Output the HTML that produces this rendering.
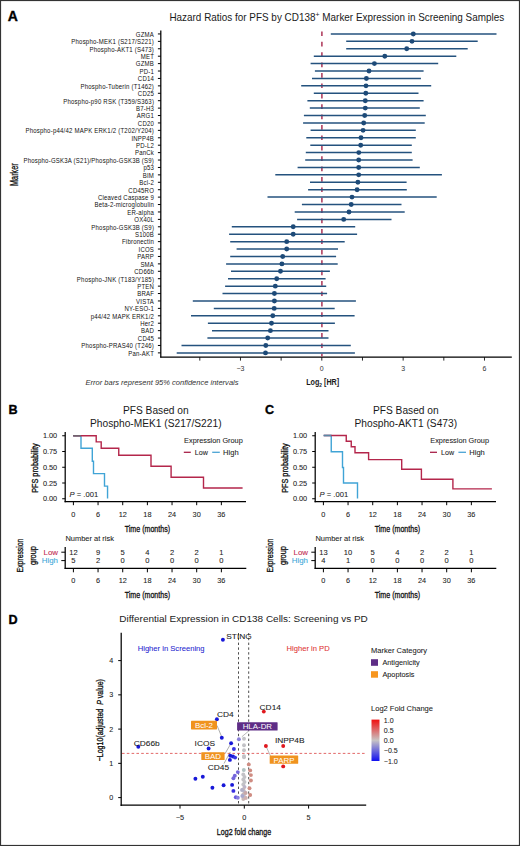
<!DOCTYPE html>
<html><head><meta charset="utf-8"><style>
html,body{margin:0;padding:0;background:#fff;}
body{width:520px;height:846px;overflow:hidden;}
svg{display:block;font-family:"Liberation Sans", sans-serif;}
</style></head><body>
<svg width="520" height="846" viewBox="0 0 520 846">
<rect x="0" y="0" width="520" height="846" fill="#fff"/>
<text x="7.8" y="20.5" font-size="14" text-anchor="start" fill="#000" font-weight="bold" stroke="#000" stroke-width="0.35">A</text>
<text transform="translate(169.4,20.5) scale(0.993,1)" font-size="10" text-anchor="start" fill="#1a1a1a" >Hazard Ratios for PFS by CD138<tspan font-size="7" dy="-3.6">+</tspan><tspan dy="3.6"> Marker Expression in Screening Samples</tspan></text>
<text transform="translate(154.1,36.8) scale(0.96,1)" font-size="6.3" text-anchor="end" fill="#111" letter-spacing="0.22" stroke="none">GZMA</text>
<line x1="157.9" y1="33.95" x2="160.8" y2="33.95" stroke="#000" stroke-width="1" />
<text transform="translate(154.1,44.22) scale(0.96,1)" font-size="6.3" text-anchor="end" fill="#111" letter-spacing="0.22" stroke="none">Phospho-MEK1 (S217/S221)</text>
<line x1="157.9" y1="41.37" x2="160.8" y2="41.37" stroke="#000" stroke-width="1" />
<text transform="translate(154.1,51.63) scale(0.96,1)" font-size="6.3" text-anchor="end" fill="#111" letter-spacing="0.22" stroke="none">Phospho-AKT1 (S473)</text>
<line x1="157.9" y1="48.78" x2="160.8" y2="48.78" stroke="#000" stroke-width="1" />
<text transform="translate(154.1,59.05) scale(0.96,1)" font-size="6.3" text-anchor="end" fill="#111" letter-spacing="0.22" stroke="none">MET</text>
<line x1="157.9" y1="56.2" x2="160.8" y2="56.2" stroke="#000" stroke-width="1" />
<text transform="translate(154.1,66.47) scale(0.96,1)" font-size="6.3" text-anchor="end" fill="#111" letter-spacing="0.22" stroke="none">GZMB</text>
<line x1="157.9" y1="63.62" x2="160.8" y2="63.62" stroke="#000" stroke-width="1" />
<text transform="translate(154.1,73.88) scale(0.96,1)" font-size="6.3" text-anchor="end" fill="#111" letter-spacing="0.22" stroke="none">PD-1</text>
<line x1="157.9" y1="71.03" x2="160.8" y2="71.03" stroke="#000" stroke-width="1" />
<text transform="translate(154.1,81.3) scale(0.96,1)" font-size="6.3" text-anchor="end" fill="#111" letter-spacing="0.22" stroke="none">CD14</text>
<line x1="157.9" y1="78.45" x2="160.8" y2="78.45" stroke="#000" stroke-width="1" />
<text transform="translate(154.1,88.72) scale(0.96,1)" font-size="6.3" text-anchor="end" fill="#111" letter-spacing="0.22" stroke="none">Phospho-Tuberin (T1462)</text>
<line x1="157.9" y1="85.87" x2="160.8" y2="85.87" stroke="#000" stroke-width="1" />
<text transform="translate(154.1,96.14) scale(0.96,1)" font-size="6.3" text-anchor="end" fill="#111" letter-spacing="0.22" stroke="none">CD25</text>
<line x1="157.9" y1="93.29" x2="160.8" y2="93.29" stroke="#000" stroke-width="1" />
<text transform="translate(154.1,103.55) scale(0.96,1)" font-size="6.3" text-anchor="end" fill="#111" letter-spacing="0.22" stroke="none">Phospho-p90 RSK (T359/S363)</text>
<line x1="157.9" y1="100.7" x2="160.8" y2="100.7" stroke="#000" stroke-width="1" />
<text transform="translate(154.1,110.97) scale(0.96,1)" font-size="6.3" text-anchor="end" fill="#111" letter-spacing="0.22" stroke="none">B7-H3</text>
<line x1="157.9" y1="108.12" x2="160.8" y2="108.12" stroke="#000" stroke-width="1" />
<text transform="translate(154.1,118.39) scale(0.96,1)" font-size="6.3" text-anchor="end" fill="#111" letter-spacing="0.22" stroke="none">ARG1</text>
<line x1="157.9" y1="115.54" x2="160.8" y2="115.54" stroke="#000" stroke-width="1" />
<text transform="translate(154.1,125.8) scale(0.96,1)" font-size="6.3" text-anchor="end" fill="#111" letter-spacing="0.22" stroke="none">CD20</text>
<line x1="157.9" y1="122.95" x2="160.8" y2="122.95" stroke="#000" stroke-width="1" />
<text transform="translate(154.1,133.22) scale(0.96,1)" font-size="6.3" text-anchor="end" fill="#111" letter-spacing="0.22" stroke="none">Phospho-p44/42 MAPK ERK1/2 (T202/Y204)</text>
<line x1="157.9" y1="130.37" x2="160.8" y2="130.37" stroke="#000" stroke-width="1" />
<text transform="translate(154.1,140.64) scale(0.96,1)" font-size="6.3" text-anchor="end" fill="#111" letter-spacing="0.22" stroke="none">INPP4B</text>
<line x1="157.9" y1="137.79" x2="160.8" y2="137.79" stroke="#000" stroke-width="1" />
<text transform="translate(154.1,148.05) scale(0.96,1)" font-size="6.3" text-anchor="end" fill="#111" letter-spacing="0.22" stroke="none">PD-L2</text>
<line x1="157.9" y1="145.2" x2="160.8" y2="145.2" stroke="#000" stroke-width="1" />
<text transform="translate(154.1,155.47) scale(0.96,1)" font-size="6.3" text-anchor="end" fill="#111" letter-spacing="0.22" stroke="none">PanCk</text>
<line x1="157.9" y1="152.62" x2="160.8" y2="152.62" stroke="#000" stroke-width="1" />
<text transform="translate(154.1,162.89) scale(0.96,1)" font-size="6.3" text-anchor="end" fill="#111" letter-spacing="0.22" stroke="none">Phospho-GSK3A (S21)/Phospho-GSK3B (S9)</text>
<line x1="157.9" y1="160.04" x2="160.8" y2="160.04" stroke="#000" stroke-width="1" />
<text transform="translate(154.1,170.31) scale(0.96,1)" font-size="6.3" text-anchor="end" fill="#111" letter-spacing="0.22" stroke="none">p53</text>
<line x1="157.9" y1="167.46" x2="160.8" y2="167.46" stroke="#000" stroke-width="1" />
<text transform="translate(154.1,177.72) scale(0.96,1)" font-size="6.3" text-anchor="end" fill="#111" letter-spacing="0.22" stroke="none">BIM</text>
<line x1="157.9" y1="174.87" x2="160.8" y2="174.87" stroke="#000" stroke-width="1" />
<text transform="translate(154.1,185.14) scale(0.96,1)" font-size="6.3" text-anchor="end" fill="#111" letter-spacing="0.22" stroke="none">Bcl-2</text>
<line x1="157.9" y1="182.29" x2="160.8" y2="182.29" stroke="#000" stroke-width="1" />
<text transform="translate(154.1,192.56) scale(0.96,1)" font-size="6.3" text-anchor="end" fill="#111" letter-spacing="0.22" stroke="none">CD45RO</text>
<line x1="157.9" y1="189.71" x2="160.8" y2="189.71" stroke="#000" stroke-width="1" />
<text transform="translate(154.1,199.97) scale(0.96,1)" font-size="6.3" text-anchor="end" fill="#111" letter-spacing="0.22" stroke="none">Cleaved Caspase 9</text>
<line x1="157.9" y1="197.12" x2="160.8" y2="197.12" stroke="#000" stroke-width="1" />
<text transform="translate(154.1,207.39) scale(0.96,1)" font-size="6.3" text-anchor="end" fill="#111" letter-spacing="0.22" stroke="none">Beta-2-microglobulin</text>
<line x1="157.9" y1="204.54" x2="160.8" y2="204.54" stroke="#000" stroke-width="1" />
<text transform="translate(154.1,214.81) scale(0.96,1)" font-size="6.3" text-anchor="end" fill="#111" letter-spacing="0.22" stroke="none">ER-alpha</text>
<line x1="157.9" y1="211.96" x2="160.8" y2="211.96" stroke="#000" stroke-width="1" />
<text transform="translate(154.1,222.22) scale(0.96,1)" font-size="6.3" text-anchor="end" fill="#111" letter-spacing="0.22" stroke="none">OX40L</text>
<line x1="157.9" y1="219.38" x2="160.8" y2="219.38" stroke="#000" stroke-width="1" />
<text transform="translate(154.1,229.64) scale(0.96,1)" font-size="6.3" text-anchor="end" fill="#111" letter-spacing="0.22" stroke="none">Phospho-GSK3B (S9)</text>
<line x1="157.9" y1="226.79" x2="160.8" y2="226.79" stroke="#000" stroke-width="1" />
<text transform="translate(154.1,237.06) scale(0.96,1)" font-size="6.3" text-anchor="end" fill="#111" letter-spacing="0.22" stroke="none">S100B</text>
<line x1="157.9" y1="234.21" x2="160.8" y2="234.21" stroke="#000" stroke-width="1" />
<text transform="translate(154.1,244.48) scale(0.96,1)" font-size="6.3" text-anchor="end" fill="#111" letter-spacing="0.22" stroke="none">Fibronectin</text>
<line x1="157.9" y1="241.63" x2="160.8" y2="241.63" stroke="#000" stroke-width="1" />
<text transform="translate(154.1,251.89) scale(0.96,1)" font-size="6.3" text-anchor="end" fill="#111" letter-spacing="0.22" stroke="none">ICOS</text>
<line x1="157.9" y1="249.04" x2="160.8" y2="249.04" stroke="#000" stroke-width="1" />
<text transform="translate(154.1,259.31) scale(0.96,1)" font-size="6.3" text-anchor="end" fill="#111" letter-spacing="0.22" stroke="none">PARP</text>
<line x1="157.9" y1="256.46" x2="160.8" y2="256.46" stroke="#000" stroke-width="1" />
<text transform="translate(154.1,266.73) scale(0.96,1)" font-size="6.3" text-anchor="end" fill="#111" letter-spacing="0.22" stroke="none">SMA</text>
<line x1="157.9" y1="263.88" x2="160.8" y2="263.88" stroke="#000" stroke-width="1" />
<text transform="translate(154.1,274.14) scale(0.96,1)" font-size="6.3" text-anchor="end" fill="#111" letter-spacing="0.22" stroke="none">CD66b</text>
<line x1="157.9" y1="271.29" x2="160.8" y2="271.29" stroke="#000" stroke-width="1" />
<text transform="translate(154.1,281.56) scale(0.96,1)" font-size="6.3" text-anchor="end" fill="#111" letter-spacing="0.22" stroke="none">Phospho-JNK (T183/Y185)</text>
<line x1="157.9" y1="278.71" x2="160.8" y2="278.71" stroke="#000" stroke-width="1" />
<text transform="translate(154.1,288.98) scale(0.96,1)" font-size="6.3" text-anchor="end" fill="#111" letter-spacing="0.22" stroke="none">PTEN</text>
<line x1="157.9" y1="286.13" x2="160.8" y2="286.13" stroke="#000" stroke-width="1" />
<text transform="translate(154.1,296.39) scale(0.96,1)" font-size="6.3" text-anchor="end" fill="#111" letter-spacing="0.22" stroke="none">BRAF</text>
<line x1="157.9" y1="293.54" x2="160.8" y2="293.54" stroke="#000" stroke-width="1" />
<text transform="translate(154.1,303.81) scale(0.96,1)" font-size="6.3" text-anchor="end" fill="#111" letter-spacing="0.22" stroke="none">VISTA</text>
<line x1="157.9" y1="300.96" x2="160.8" y2="300.96" stroke="#000" stroke-width="1" />
<text transform="translate(154.1,311.23) scale(0.96,1)" font-size="6.3" text-anchor="end" fill="#111" letter-spacing="0.22" stroke="none">NY-ESO-1</text>
<line x1="157.9" y1="308.38" x2="160.8" y2="308.38" stroke="#000" stroke-width="1" />
<text transform="translate(154.1,318.65) scale(0.96,1)" font-size="6.3" text-anchor="end" fill="#111" letter-spacing="0.22" stroke="none">p44/42 MAPK ERK1/2</text>
<line x1="157.9" y1="315.8" x2="160.8" y2="315.8" stroke="#000" stroke-width="1" />
<text transform="translate(154.1,326.06) scale(0.96,1)" font-size="6.3" text-anchor="end" fill="#111" letter-spacing="0.22" stroke="none">Her2</text>
<line x1="157.9" y1="323.21" x2="160.8" y2="323.21" stroke="#000" stroke-width="1" />
<text transform="translate(154.1,333.48) scale(0.96,1)" font-size="6.3" text-anchor="end" fill="#111" letter-spacing="0.22" stroke="none">BAD</text>
<line x1="157.9" y1="330.63" x2="160.8" y2="330.63" stroke="#000" stroke-width="1" />
<text transform="translate(154.1,340.9) scale(0.96,1)" font-size="6.3" text-anchor="end" fill="#111" letter-spacing="0.22" stroke="none">CD45</text>
<line x1="157.9" y1="338.05" x2="160.8" y2="338.05" stroke="#000" stroke-width="1" />
<text transform="translate(154.1,348.31) scale(0.96,1)" font-size="6.3" text-anchor="end" fill="#111" letter-spacing="0.22" stroke="none">Phospho-PRAS40 (T246)</text>
<line x1="157.9" y1="345.46" x2="160.8" y2="345.46" stroke="#000" stroke-width="1" />
<text transform="translate(154.1,355.73) scale(0.96,1)" font-size="6.3" text-anchor="end" fill="#111" letter-spacing="0.22" stroke="none">Pan-AKT</text>
<line x1="157.9" y1="352.88" x2="160.8" y2="352.88" stroke="#000" stroke-width="1" />
<line x1="160.8" y1="30.4" x2="160.8" y2="357.6" stroke="#000" stroke-width="1.25" />
<line x1="160.2" y1="357" x2="511.8" y2="357" stroke="#000" stroke-width="1.25" />
<line x1="199.8" y1="357" x2="199.8" y2="360.6" stroke="#111" stroke-width="0.9" />
<line x1="240.47" y1="357" x2="240.47" y2="360.6" stroke="#111" stroke-width="0.9" />
<line x1="281.14" y1="357" x2="281.14" y2="360.6" stroke="#111" stroke-width="0.9" />
<line x1="321.81" y1="357" x2="321.81" y2="360.6" stroke="#111" stroke-width="0.9" />
<line x1="362.48" y1="357" x2="362.48" y2="360.6" stroke="#111" stroke-width="0.9" />
<line x1="403.15" y1="357" x2="403.15" y2="360.6" stroke="#111" stroke-width="0.9" />
<line x1="443.82" y1="357" x2="443.82" y2="360.6" stroke="#111" stroke-width="0.9" />
<line x1="484.49" y1="357" x2="484.49" y2="360.6" stroke="#111" stroke-width="0.9" />
<text x="240.5" y="370.6" font-size="7" text-anchor="middle" fill="#333" >−3</text>
<text x="321.8" y="370.6" font-size="7" text-anchor="middle" fill="#333" >0</text>
<text x="403.1" y="370.6" font-size="7" text-anchor="middle" fill="#333" >3</text>
<text x="484.5" y="370.6" font-size="7" text-anchor="middle" fill="#333" >6</text>
<line x1="321.9" y1="31.4" x2="321.9" y2="356.5" stroke="#ac3456" stroke-width="1.5" stroke-dasharray="4.7 5.7"/>
<line x1="330.8" y1="33.95" x2="496.5" y2="33.95" stroke="#24527e" stroke-width="1.5" />
<circle cx="413.3" cy="33.95" r="2.45" fill="#1d4a78"/>
<line x1="346.2" y1="41.37" x2="477.7" y2="41.37" stroke="#24527e" stroke-width="1.5" />
<circle cx="412" cy="41.37" r="2.45" fill="#1d4a78"/>
<line x1="346.2" y1="48.78" x2="467.7" y2="48.78" stroke="#24527e" stroke-width="1.5" />
<circle cx="406.7" cy="48.78" r="2.45" fill="#1d4a78"/>
<line x1="313.8" y1="56.2" x2="456.3" y2="56.2" stroke="#24527e" stroke-width="1.5" />
<circle cx="384.8" cy="56.2" r="2.45" fill="#1d4a78"/>
<line x1="310.6" y1="63.62" x2="438.2" y2="63.62" stroke="#24527e" stroke-width="1.5" />
<circle cx="374.4" cy="63.62" r="2.45" fill="#1d4a78"/>
<line x1="314.9" y1="71.03" x2="423.6" y2="71.03" stroke="#24527e" stroke-width="1.5" />
<circle cx="369" cy="71.03" r="2.45" fill="#1d4a78"/>
<line x1="312" y1="78.45" x2="420.9" y2="78.45" stroke="#24527e" stroke-width="1.5" />
<circle cx="366.4" cy="78.45" r="2.45" fill="#1d4a78"/>
<line x1="301.2" y1="85.87" x2="431.2" y2="85.87" stroke="#24527e" stroke-width="1.5" />
<circle cx="366" cy="85.87" r="2.45" fill="#1d4a78"/>
<line x1="313.8" y1="93.29" x2="418.5" y2="93.29" stroke="#24527e" stroke-width="1.5" />
<circle cx="365.8" cy="93.29" r="2.45" fill="#1d4a78"/>
<line x1="307.4" y1="100.7" x2="423.6" y2="100.7" stroke="#24527e" stroke-width="1.5" />
<circle cx="365.3" cy="100.7" r="2.45" fill="#1d4a78"/>
<line x1="309.8" y1="108.12" x2="419.8" y2="108.12" stroke="#24527e" stroke-width="1.5" />
<circle cx="365.3" cy="108.12" r="2.45" fill="#1d4a78"/>
<line x1="303.9" y1="115.54" x2="425.8" y2="115.54" stroke="#24527e" stroke-width="1.5" />
<circle cx="364.7" cy="115.54" r="2.45" fill="#1d4a78"/>
<line x1="303.1" y1="122.95" x2="424.7" y2="122.95" stroke="#24527e" stroke-width="1.5" />
<circle cx="363.7" cy="122.95" r="2.45" fill="#1d4a78"/>
<line x1="310.6" y1="130.37" x2="415.8" y2="130.37" stroke="#24527e" stroke-width="1.5" />
<circle cx="363.1" cy="130.37" r="2.45" fill="#1d4a78"/>
<line x1="306.3" y1="137.79" x2="415.8" y2="137.79" stroke="#24527e" stroke-width="1.5" />
<circle cx="361" cy="137.79" r="2.45" fill="#1d4a78"/>
<line x1="310.3" y1="145.2" x2="411.8" y2="145.2" stroke="#24527e" stroke-width="1.5" />
<circle cx="360.7" cy="145.2" r="2.45" fill="#1d4a78"/>
<line x1="305.8" y1="152.62" x2="411.8" y2="152.62" stroke="#24527e" stroke-width="1.5" />
<circle cx="358.8" cy="152.62" r="2.45" fill="#1d4a78"/>
<line x1="305.2" y1="160.04" x2="412.6" y2="160.04" stroke="#24527e" stroke-width="1.5" />
<circle cx="358.7" cy="160.04" r="2.45" fill="#1d4a78"/>
<line x1="297.6" y1="167.46" x2="419.8" y2="167.46" stroke="#24527e" stroke-width="1.5" />
<circle cx="358.7" cy="167.46" r="2.45" fill="#1d4a78"/>
<line x1="275.3" y1="174.87" x2="441.9" y2="174.87" stroke="#24527e" stroke-width="1.5" />
<circle cx="358.7" cy="174.87" r="2.45" fill="#1d4a78"/>
<line x1="310" y1="182.29" x2="406.6" y2="182.29" stroke="#24527e" stroke-width="1.5" />
<circle cx="357.9" cy="182.29" r="2.45" fill="#1d4a78"/>
<line x1="308.1" y1="189.71" x2="406.8" y2="189.71" stroke="#24527e" stroke-width="1.5" />
<circle cx="357.1" cy="189.71" r="2.45" fill="#1d4a78"/>
<line x1="267.5" y1="197.12" x2="436.7" y2="197.12" stroke="#24527e" stroke-width="1.5" />
<circle cx="352" cy="197.12" r="2.45" fill="#1d4a78"/>
<line x1="301.9" y1="204.54" x2="401.5" y2="204.54" stroke="#24527e" stroke-width="1.5" />
<circle cx="351.2" cy="204.54" r="2.45" fill="#1d4a78"/>
<line x1="294.7" y1="211.96" x2="404.7" y2="211.96" stroke="#24527e" stroke-width="1.5" />
<circle cx="349" cy="211.96" r="2.45" fill="#1d4a78"/>
<line x1="297.1" y1="219.38" x2="391.5" y2="219.38" stroke="#24527e" stroke-width="1.5" />
<circle cx="343.7" cy="219.38" r="2.45" fill="#1d4a78"/>
<line x1="231.8" y1="226.79" x2="355.2" y2="226.79" stroke="#24527e" stroke-width="1.5" />
<circle cx="293.2" cy="226.79" r="2.45" fill="#1d4a78"/>
<line x1="229.1" y1="234.21" x2="357.1" y2="234.21" stroke="#24527e" stroke-width="1.5" />
<circle cx="293.2" cy="234.21" r="2.45" fill="#1d4a78"/>
<line x1="230.2" y1="241.63" x2="344.7" y2="241.63" stroke="#24527e" stroke-width="1.5" />
<circle cx="286.7" cy="241.63" r="2.45" fill="#1d4a78"/>
<line x1="236.6" y1="249.04" x2="338" y2="249.04" stroke="#24527e" stroke-width="1.5" />
<circle cx="286.7" cy="249.04" r="2.45" fill="#1d4a78"/>
<line x1="230.2" y1="256.46" x2="336.1" y2="256.46" stroke="#24527e" stroke-width="1.5" />
<circle cx="282.7" cy="256.46" r="2.45" fill="#1d4a78"/>
<line x1="226.1" y1="263.88" x2="337.7" y2="263.88" stroke="#24527e" stroke-width="1.5" />
<circle cx="281.9" cy="263.88" r="2.45" fill="#1d4a78"/>
<line x1="231" y1="271.29" x2="329.9" y2="271.29" stroke="#24527e" stroke-width="1.5" />
<circle cx="280.5" cy="271.29" r="2.45" fill="#1d4a78"/>
<line x1="228" y1="278.71" x2="325.6" y2="278.71" stroke="#24527e" stroke-width="1.5" />
<circle cx="276.7" cy="278.71" r="2.45" fill="#1d4a78"/>
<line x1="225.1" y1="286.13" x2="326.2" y2="286.13" stroke="#24527e" stroke-width="1.5" />
<circle cx="275.3" cy="286.13" r="2.45" fill="#1d4a78"/>
<line x1="222.5" y1="293.54" x2="327.1" y2="293.54" stroke="#24527e" stroke-width="1.5" />
<circle cx="274.4" cy="293.54" r="2.45" fill="#1d4a78"/>
<line x1="192.8" y1="300.96" x2="355.9" y2="300.96" stroke="#24527e" stroke-width="1.5" />
<circle cx="274.4" cy="300.96" r="2.45" fill="#1d4a78"/>
<line x1="213.8" y1="308.38" x2="334.7" y2="308.38" stroke="#24527e" stroke-width="1.5" />
<circle cx="274.2" cy="308.38" r="2.45" fill="#1d4a78"/>
<line x1="191" y1="315.8" x2="354.6" y2="315.8" stroke="#24527e" stroke-width="1.5" />
<circle cx="272.8" cy="315.8" r="2.45" fill="#1d4a78"/>
<line x1="207.9" y1="323.21" x2="334.9" y2="323.21" stroke="#24527e" stroke-width="1.5" />
<circle cx="271.5" cy="323.21" r="2.45" fill="#1d4a78"/>
<line x1="212" y1="330.63" x2="328.5" y2="330.63" stroke="#24527e" stroke-width="1.5" />
<circle cx="270.4" cy="330.63" r="2.45" fill="#1d4a78"/>
<line x1="207.4" y1="338.05" x2="328.5" y2="338.05" stroke="#24527e" stroke-width="1.5" />
<circle cx="267.7" cy="338.05" r="2.45" fill="#1d4a78"/>
<line x1="181.5" y1="345.46" x2="350.8" y2="345.46" stroke="#24527e" stroke-width="1.5" />
<circle cx="265.8" cy="345.46" r="2.45" fill="#1d4a78"/>
<line x1="176.7" y1="352.88" x2="354.9" y2="352.88" stroke="#24527e" stroke-width="1.5" />
<circle cx="265.5" cy="352.88" r="2.45" fill="#1d4a78"/>
<text transform="translate(18.2,174.65) rotate(-90)" font-size="10" text-anchor="middle" fill="#111" stroke="#111" stroke-width="0.32" textLength="22.6" lengthAdjust="spacingAndGlyphs" >Marker</text>
<text x="85.5" y="384.9" font-size="7.3" text-anchor="start" fill="#333" font-style="italic" textLength="153" lengthAdjust="spacingAndGlyphs" >Error bars represent 95% confidence intervals</text>
<text transform="translate(306.2,384.7) scale(0.8,1)" font-size="9" text-anchor="start" fill="#1a1a1a" font-weight="bold" >Log<tspan font-size="6" dy="2">2</tspan><tspan dy="-2"> [HR]</tspan></text>
<text x="8.4" y="413.6" font-size="12.6" text-anchor="start" fill="#000" font-weight="bold" stroke="#000" stroke-width="0.35">B</text>
<text transform="translate(155.8,413.7) scale(1.02,1)" font-size="10" text-anchor="middle" fill="#1a1a1a" >PFS Based on</text>
<text transform="translate(155.8,426.8) scale(1.02,1)" font-size="10" text-anchor="middle" fill="#1a1a1a" >Phospho-MEK1 (S217/S221)</text>
<line x1="65.2" y1="432" x2="65.2" y2="502.2" stroke="#000" stroke-width="1.25" />
<line x1="64.6" y1="501.6" x2="246" y2="501.6" stroke="#000" stroke-width="1.25" />
<line x1="62.2" y1="435.75" x2="65.2" y2="435.75" stroke="#000" stroke-width="1" />
<text transform="translate(57.2,438.25) scale(1.05,1)" font-size="7" text-anchor="end" fill="#222" stroke="#222" stroke-width="0.07" >1.00</text>
<line x1="62.2" y1="451.5" x2="65.2" y2="451.5" stroke="#000" stroke-width="1" />
<text transform="translate(57.2,454.0) scale(1.05,1)" font-size="7" text-anchor="end" fill="#222" stroke="#222" stroke-width="0.07" >0.75</text>
<line x1="62.2" y1="467.25" x2="65.2" y2="467.25" stroke="#000" stroke-width="1" />
<text transform="translate(57.2,469.75) scale(1.05,1)" font-size="7" text-anchor="end" fill="#222" stroke="#222" stroke-width="0.07" >0.50</text>
<line x1="62.2" y1="483.0" x2="65.2" y2="483.0" stroke="#000" stroke-width="1" />
<text transform="translate(57.2,485.5) scale(1.05,1)" font-size="7" text-anchor="end" fill="#222" stroke="#222" stroke-width="0.07" >0.25</text>
<line x1="62.2" y1="498.75" x2="65.2" y2="498.75" stroke="#000" stroke-width="1" />
<text transform="translate(57.2,501.25) scale(1.05,1)" font-size="7" text-anchor="end" fill="#222" stroke="#222" stroke-width="0.07" >0.00</text>
<line x1="73.4" y1="501.6" x2="73.4" y2="505.2" stroke="#000" stroke-width="1" />
<text transform="translate(73.4,516.6) scale(1.05,1)" font-size="7" text-anchor="middle" fill="#222" stroke="#222" stroke-width="0.07" >0</text>
<line x1="98.06" y1="501.6" x2="98.06" y2="505.2" stroke="#000" stroke-width="1" />
<text transform="translate(98.06,516.6) scale(1.05,1)" font-size="7" text-anchor="middle" fill="#222" stroke="#222" stroke-width="0.07" >6</text>
<line x1="122.72" y1="501.6" x2="122.72" y2="505.2" stroke="#000" stroke-width="1" />
<text transform="translate(122.72,516.6) scale(1.05,1)" font-size="7" text-anchor="middle" fill="#222" stroke="#222" stroke-width="0.07" >12</text>
<line x1="147.38" y1="501.6" x2="147.38" y2="505.2" stroke="#000" stroke-width="1" />
<text transform="translate(147.38,516.6) scale(1.05,1)" font-size="7" text-anchor="middle" fill="#222" stroke="#222" stroke-width="0.07" >18</text>
<line x1="172.04" y1="501.6" x2="172.04" y2="505.2" stroke="#000" stroke-width="1" />
<text transform="translate(172.04,516.6) scale(1.05,1)" font-size="7" text-anchor="middle" fill="#222" stroke="#222" stroke-width="0.07" >24</text>
<line x1="196.7" y1="501.6" x2="196.7" y2="505.2" stroke="#000" stroke-width="1" />
<text transform="translate(196.7,516.6) scale(1.05,1)" font-size="7" text-anchor="middle" fill="#222" stroke="#222" stroke-width="0.07" >30</text>
<line x1="221.36" y1="501.6" x2="221.36" y2="505.2" stroke="#000" stroke-width="1" />
<text transform="translate(221.36,516.6) scale(1.05,1)" font-size="7" text-anchor="middle" fill="#222" stroke="#222" stroke-width="0.07" >36</text>
<text transform="translate(147.4,531.8)" font-size="9.6" text-anchor="middle" fill="#111" stroke="#111" stroke-width="0.32" textLength="45.4" lengthAdjust="spacingAndGlyphs" >Time (months)</text>
<text transform="translate(37.9,468.1) rotate(-90)" font-size="9.4" text-anchor="middle" fill="#111" stroke="#111" stroke-width="0.32" textLength="49.5" lengthAdjust="spacingAndGlyphs" >PFS probability</text>
<path d="M73.2,435.8 L81,435.8 L81,448.2 L92.3,448.2 L92.3,461.2 L93.5,461.2 L93.5,473.6 L104.5,473.6 L104.5,486.1 L107.55,486.1 L107.55,498.6" fill="none" stroke="#40a4d6" stroke-width="1.4" stroke-linejoin="miter"/>
<path d="M73.2,435.8 L96.2,435.8 L96.2,441.9 L101.2,441.9 L101.2,448.3 L118.75,448.3 L118.75,455.25 L151,455.25 L151,466.25 L171.1,466.25 L171.1,477.25 L203.5,477.25 L203.5,488 L242.6,488" fill="none" stroke="#b4264b" stroke-width="1.4" stroke-linejoin="miter"/>
<line x1="73.10000000000001" y1="435.8" x2="81" y2="435.8" stroke="#6a6a72" stroke-width="1.4"/>
<text transform="translate(69.6,496.6) scale(1.0,1)" font-size="7.6" text-anchor="start" fill="#222" stroke="#222" stroke-width="0.07" ><tspan font-style="italic">P</tspan> = .001</text>
<text transform="translate(184.1,442.75) scale(1.05,1)" font-size="7" text-anchor="start" fill="#222" stroke="#222" stroke-width="0.07" >Expression Group</text>
<line x1="183.8" y1="452.3" x2="190.8" y2="452.3" stroke="#a82048" stroke-width="1.3" />
<text transform="translate(194.8,455) scale(1.02,1)" font-size="7" text-anchor="start" fill="#222" stroke="#222" stroke-width="0.07" >Low</text>
<line x1="212.2" y1="452.3" x2="219.8" y2="452.3" stroke="#4aa4d4" stroke-width="1.3" />
<text transform="translate(223.1,455) scale(1.08,1)" font-size="7" text-anchor="start" fill="#222" stroke="#222" stroke-width="0.07" >High</text>
<text transform="translate(65.4,541.2) scale(1.04,1)" font-size="7.2" text-anchor="start" fill="#1a1a1a" stroke="#1a1a1a" stroke-width="0.07" >Number at risk</text>
<line x1="65.2" y1="546.9" x2="65.2" y2="569" stroke="#000" stroke-width="1.25" />
<line x1="64.6" y1="568.4" x2="246.3" y2="568.4" stroke="#000" stroke-width="1.25" />
<line x1="61.3" y1="552.2" x2="65.2" y2="552.2" stroke="#000" stroke-width="1" />
<line x1="61.3" y1="560.6" x2="65.2" y2="560.6" stroke="#000" stroke-width="1" />
<text transform="translate(58,555) scale(1.04,1)" font-size="7.6" text-anchor="end" fill="#c0284f" stroke="#c0284f" stroke-width="0.07" >Low</text>
<text transform="translate(58,563.4) scale(1.04,1)" font-size="7.6" text-anchor="end" fill="#3aa6d8" stroke="#3aa6d8" stroke-width="0.07" >High</text>
<text transform="translate(73.4,554.8) scale(1.05,1)" font-size="7.2" text-anchor="middle" fill="#1a1a1a" stroke="#1a1a1a" stroke-width="0.07" >12</text>
<text transform="translate(73.4,563.4) scale(1.05,1)" font-size="7.2" text-anchor="middle" fill="#1a1a1a" stroke="#1a1a1a" stroke-width="0.07" >5</text>
<line x1="73.4" y1="568.4" x2="73.4" y2="572.3" stroke="#000" stroke-width="1" />
<text transform="translate(73.4,583) scale(1.05,1)" font-size="7" text-anchor="middle" fill="#222" stroke="#222" stroke-width="0.07" >0</text>
<text transform="translate(98.06,554.8) scale(1.05,1)" font-size="7.2" text-anchor="middle" fill="#1a1a1a" stroke="#1a1a1a" stroke-width="0.07" >9</text>
<text transform="translate(98.06,563.4) scale(1.05,1)" font-size="7.2" text-anchor="middle" fill="#1a1a1a" stroke="#1a1a1a" stroke-width="0.07" >2</text>
<line x1="98.06" y1="568.4" x2="98.06" y2="572.3" stroke="#000" stroke-width="1" />
<text transform="translate(98.06,583) scale(1.05,1)" font-size="7" text-anchor="middle" fill="#222" stroke="#222" stroke-width="0.07" >6</text>
<text transform="translate(122.72,554.8) scale(1.05,1)" font-size="7.2" text-anchor="middle" fill="#1a1a1a" stroke="#1a1a1a" stroke-width="0.07" >5</text>
<text transform="translate(122.72,563.4) scale(1.05,1)" font-size="7.2" text-anchor="middle" fill="#1a1a1a" stroke="#1a1a1a" stroke-width="0.07" >0</text>
<line x1="122.72" y1="568.4" x2="122.72" y2="572.3" stroke="#000" stroke-width="1" />
<text transform="translate(122.72,583) scale(1.05,1)" font-size="7" text-anchor="middle" fill="#222" stroke="#222" stroke-width="0.07" >12</text>
<text transform="translate(147.38,554.8) scale(1.05,1)" font-size="7.2" text-anchor="middle" fill="#1a1a1a" stroke="#1a1a1a" stroke-width="0.07" >4</text>
<text transform="translate(147.38,563.4) scale(1.05,1)" font-size="7.2" text-anchor="middle" fill="#1a1a1a" stroke="#1a1a1a" stroke-width="0.07" >0</text>
<line x1="147.38" y1="568.4" x2="147.38" y2="572.3" stroke="#000" stroke-width="1" />
<text transform="translate(147.38,583) scale(1.05,1)" font-size="7" text-anchor="middle" fill="#222" stroke="#222" stroke-width="0.07" >18</text>
<text transform="translate(172.04,554.8) scale(1.05,1)" font-size="7.2" text-anchor="middle" fill="#1a1a1a" stroke="#1a1a1a" stroke-width="0.07" >2</text>
<text transform="translate(172.04,563.4) scale(1.05,1)" font-size="7.2" text-anchor="middle" fill="#1a1a1a" stroke="#1a1a1a" stroke-width="0.07" >0</text>
<line x1="172.04" y1="568.4" x2="172.04" y2="572.3" stroke="#000" stroke-width="1" />
<text transform="translate(172.04,583) scale(1.05,1)" font-size="7" text-anchor="middle" fill="#222" stroke="#222" stroke-width="0.07" >24</text>
<text transform="translate(196.7,554.8) scale(1.05,1)" font-size="7.2" text-anchor="middle" fill="#1a1a1a" stroke="#1a1a1a" stroke-width="0.07" >2</text>
<text transform="translate(196.7,563.4) scale(1.05,1)" font-size="7.2" text-anchor="middle" fill="#1a1a1a" stroke="#1a1a1a" stroke-width="0.07" >0</text>
<line x1="196.7" y1="568.4" x2="196.7" y2="572.3" stroke="#000" stroke-width="1" />
<text transform="translate(196.7,583) scale(1.05,1)" font-size="7" text-anchor="middle" fill="#222" stroke="#222" stroke-width="0.07" >30</text>
<text transform="translate(221.36,554.8) scale(1.05,1)" font-size="7.2" text-anchor="middle" fill="#1a1a1a" stroke="#1a1a1a" stroke-width="0.07" >1</text>
<text transform="translate(221.36,563.4) scale(1.05,1)" font-size="7.2" text-anchor="middle" fill="#1a1a1a" stroke="#1a1a1a" stroke-width="0.07" >0</text>
<line x1="221.36" y1="568.4" x2="221.36" y2="572.3" stroke="#000" stroke-width="1" />
<text transform="translate(221.36,583) scale(1.05,1)" font-size="7" text-anchor="middle" fill="#222" stroke="#222" stroke-width="0.07" >36</text>
<text transform="translate(147.4,597.6)" font-size="9.6" text-anchor="middle" fill="#111" stroke="#111" stroke-width="0.32" textLength="45.4" lengthAdjust="spacingAndGlyphs" >Time (months)</text>
<text transform="translate(23.4,555.5) rotate(-90)" font-size="9.4" text-anchor="middle" fill="#111" stroke="#111" stroke-width="0.32" textLength="33.8" lengthAdjust="spacingAndGlyphs" >Expression</text>
<text transform="translate(36.2,555.5) rotate(-90)" font-size="9.4" text-anchor="middle" fill="#111" stroke="#111" stroke-width="0.32" textLength="19" lengthAdjust="spacingAndGlyphs" >group</text>
<text x="265.0" y="413.6" font-size="12.6" text-anchor="start" fill="#000" font-weight="bold" stroke="#000" stroke-width="0.35">C</text>
<text transform="translate(405.8,413.7) scale(1.02,1)" font-size="10" text-anchor="middle" fill="#1a1a1a" >PFS Based on</text>
<text transform="translate(405.8,426.8) scale(1.02,1)" font-size="10" text-anchor="middle" fill="#1a1a1a" >Phospho-AKT1 (S473)</text>
<line x1="315.2" y1="432" x2="315.2" y2="502.2" stroke="#000" stroke-width="1.25" />
<line x1="314.6" y1="501.6" x2="496" y2="501.6" stroke="#000" stroke-width="1.25" />
<line x1="312.2" y1="435.75" x2="315.2" y2="435.75" stroke="#000" stroke-width="1" />
<text transform="translate(307.2,438.25) scale(1.05,1)" font-size="7" text-anchor="end" fill="#222" stroke="#222" stroke-width="0.07" >1.00</text>
<line x1="312.2" y1="451.5" x2="315.2" y2="451.5" stroke="#000" stroke-width="1" />
<text transform="translate(307.2,454.0) scale(1.05,1)" font-size="7" text-anchor="end" fill="#222" stroke="#222" stroke-width="0.07" >0.75</text>
<line x1="312.2" y1="467.25" x2="315.2" y2="467.25" stroke="#000" stroke-width="1" />
<text transform="translate(307.2,469.75) scale(1.05,1)" font-size="7" text-anchor="end" fill="#222" stroke="#222" stroke-width="0.07" >0.50</text>
<line x1="312.2" y1="483.0" x2="315.2" y2="483.0" stroke="#000" stroke-width="1" />
<text transform="translate(307.2,485.5) scale(1.05,1)" font-size="7" text-anchor="end" fill="#222" stroke="#222" stroke-width="0.07" >0.25</text>
<line x1="312.2" y1="498.75" x2="315.2" y2="498.75" stroke="#000" stroke-width="1" />
<text transform="translate(307.2,501.25) scale(1.05,1)" font-size="7" text-anchor="end" fill="#222" stroke="#222" stroke-width="0.07" >0.00</text>
<line x1="323.4" y1="501.6" x2="323.4" y2="505.2" stroke="#000" stroke-width="1" />
<text transform="translate(323.4,516.6) scale(1.05,1)" font-size="7" text-anchor="middle" fill="#222" stroke="#222" stroke-width="0.07" >0</text>
<line x1="348.06" y1="501.6" x2="348.06" y2="505.2" stroke="#000" stroke-width="1" />
<text transform="translate(348.06,516.6) scale(1.05,1)" font-size="7" text-anchor="middle" fill="#222" stroke="#222" stroke-width="0.07" >6</text>
<line x1="372.72" y1="501.6" x2="372.72" y2="505.2" stroke="#000" stroke-width="1" />
<text transform="translate(372.72,516.6) scale(1.05,1)" font-size="7" text-anchor="middle" fill="#222" stroke="#222" stroke-width="0.07" >12</text>
<line x1="397.38" y1="501.6" x2="397.38" y2="505.2" stroke="#000" stroke-width="1" />
<text transform="translate(397.38,516.6) scale(1.05,1)" font-size="7" text-anchor="middle" fill="#222" stroke="#222" stroke-width="0.07" >18</text>
<line x1="422.04" y1="501.6" x2="422.04" y2="505.2" stroke="#000" stroke-width="1" />
<text transform="translate(422.04,516.6) scale(1.05,1)" font-size="7" text-anchor="middle" fill="#222" stroke="#222" stroke-width="0.07" >24</text>
<line x1="446.7" y1="501.6" x2="446.7" y2="505.2" stroke="#000" stroke-width="1" />
<text transform="translate(446.7,516.6) scale(1.05,1)" font-size="7" text-anchor="middle" fill="#222" stroke="#222" stroke-width="0.07" >30</text>
<line x1="471.36" y1="501.6" x2="471.36" y2="505.2" stroke="#000" stroke-width="1" />
<text transform="translate(471.36,516.6) scale(1.05,1)" font-size="7" text-anchor="middle" fill="#222" stroke="#222" stroke-width="0.07" >36</text>
<text transform="translate(397.4,531.8)" font-size="9.6" text-anchor="middle" fill="#111" stroke="#111" stroke-width="0.32" textLength="45.4" lengthAdjust="spacingAndGlyphs" >Time (months)</text>
<text transform="translate(287.9,468.1) rotate(-90)" font-size="9.4" text-anchor="middle" fill="#111" stroke="#111" stroke-width="0.32" textLength="49.5" lengthAdjust="spacingAndGlyphs" >PFS probability</text>
<path d="M323.75,435.5 L331.25,435.5 L331.25,451.75 L342.5,451.75 L342.5,467.5 L343.5,467.5 L343.5,483 L357.5,483 L357.5,498.6" fill="none" stroke="#40a4d6" stroke-width="1.4" stroke-linejoin="miter"/>
<path d="M323.75,435.5 L346.25,435.5 L346.25,441.25 L351.25,441.25 L351.25,446.75 L355,446.75 L355,452.8 L368.6,452.8 L368.6,459.6 L401.7,459.6 L401.7,469.3 L421.4,469.3 L421.4,479.2 L452.9,479.2 L452.9,488.9 L491.9,488.9" fill="none" stroke="#b4264b" stroke-width="1.4" stroke-linejoin="miter"/>
<line x1="323.65" y1="435.5" x2="331.25" y2="435.5" stroke="#5a88a4" stroke-width="1.4"/>
<text transform="translate(319.6,496.6) scale(1.0,1)" font-size="7.6" text-anchor="start" fill="#222" stroke="#222" stroke-width="0.07" ><tspan font-style="italic">P</tspan> = .001</text>
<text transform="translate(430.3,442.75) scale(1.05,1)" font-size="7" text-anchor="start" fill="#222" stroke="#222" stroke-width="0.07" >Expression Group</text>
<line x1="430" y1="452.3" x2="437" y2="452.3" stroke="#a82048" stroke-width="1.3" />
<text transform="translate(441,455) scale(1.02,1)" font-size="7" text-anchor="start" fill="#222" stroke="#222" stroke-width="0.07" >Low</text>
<line x1="458.4" y1="452.3" x2="466" y2="452.3" stroke="#4aa4d4" stroke-width="1.3" />
<text transform="translate(469.3,455) scale(1.08,1)" font-size="7" text-anchor="start" fill="#222" stroke="#222" stroke-width="0.07" >High</text>
<text transform="translate(315.4,541.2) scale(1.04,1)" font-size="7.2" text-anchor="start" fill="#1a1a1a" stroke="#1a1a1a" stroke-width="0.07" >Number at risk</text>
<line x1="315.2" y1="546.9" x2="315.2" y2="569" stroke="#000" stroke-width="1.25" />
<line x1="314.6" y1="568.4" x2="496.3" y2="568.4" stroke="#000" stroke-width="1.25" />
<line x1="311.3" y1="552.2" x2="315.2" y2="552.2" stroke="#000" stroke-width="1" />
<line x1="311.3" y1="560.6" x2="315.2" y2="560.6" stroke="#000" stroke-width="1" />
<text transform="translate(308,555) scale(1.04,1)" font-size="7.6" text-anchor="end" fill="#c0284f" stroke="#c0284f" stroke-width="0.07" >Low</text>
<text transform="translate(308,563.4) scale(1.04,1)" font-size="7.6" text-anchor="end" fill="#3aa6d8" stroke="#3aa6d8" stroke-width="0.07" >High</text>
<text transform="translate(323.4,554.8) scale(1.05,1)" font-size="7.2" text-anchor="middle" fill="#1a1a1a" stroke="#1a1a1a" stroke-width="0.07" >13</text>
<text transform="translate(323.4,563.4) scale(1.05,1)" font-size="7.2" text-anchor="middle" fill="#1a1a1a" stroke="#1a1a1a" stroke-width="0.07" >4</text>
<line x1="323.4" y1="568.4" x2="323.4" y2="572.3" stroke="#000" stroke-width="1" />
<text transform="translate(323.4,583) scale(1.05,1)" font-size="7" text-anchor="middle" fill="#222" stroke="#222" stroke-width="0.07" >0</text>
<text transform="translate(348.06,554.8) scale(1.05,1)" font-size="7.2" text-anchor="middle" fill="#1a1a1a" stroke="#1a1a1a" stroke-width="0.07" >10</text>
<text transform="translate(348.06,563.4) scale(1.05,1)" font-size="7.2" text-anchor="middle" fill="#1a1a1a" stroke="#1a1a1a" stroke-width="0.07" >1</text>
<line x1="348.06" y1="568.4" x2="348.06" y2="572.3" stroke="#000" stroke-width="1" />
<text transform="translate(348.06,583) scale(1.05,1)" font-size="7" text-anchor="middle" fill="#222" stroke="#222" stroke-width="0.07" >6</text>
<text transform="translate(372.72,554.8) scale(1.05,1)" font-size="7.2" text-anchor="middle" fill="#1a1a1a" stroke="#1a1a1a" stroke-width="0.07" >5</text>
<text transform="translate(372.72,563.4) scale(1.05,1)" font-size="7.2" text-anchor="middle" fill="#1a1a1a" stroke="#1a1a1a" stroke-width="0.07" >0</text>
<line x1="372.72" y1="568.4" x2="372.72" y2="572.3" stroke="#000" stroke-width="1" />
<text transform="translate(372.72,583) scale(1.05,1)" font-size="7" text-anchor="middle" fill="#222" stroke="#222" stroke-width="0.07" >12</text>
<text transform="translate(397.38,554.8) scale(1.05,1)" font-size="7.2" text-anchor="middle" fill="#1a1a1a" stroke="#1a1a1a" stroke-width="0.07" >4</text>
<text transform="translate(397.38,563.4) scale(1.05,1)" font-size="7.2" text-anchor="middle" fill="#1a1a1a" stroke="#1a1a1a" stroke-width="0.07" >0</text>
<line x1="397.38" y1="568.4" x2="397.38" y2="572.3" stroke="#000" stroke-width="1" />
<text transform="translate(397.38,583) scale(1.05,1)" font-size="7" text-anchor="middle" fill="#222" stroke="#222" stroke-width="0.07" >18</text>
<text transform="translate(422.04,554.8) scale(1.05,1)" font-size="7.2" text-anchor="middle" fill="#1a1a1a" stroke="#1a1a1a" stroke-width="0.07" >2</text>
<text transform="translate(422.04,563.4) scale(1.05,1)" font-size="7.2" text-anchor="middle" fill="#1a1a1a" stroke="#1a1a1a" stroke-width="0.07" >0</text>
<line x1="422.04" y1="568.4" x2="422.04" y2="572.3" stroke="#000" stroke-width="1" />
<text transform="translate(422.04,583) scale(1.05,1)" font-size="7" text-anchor="middle" fill="#222" stroke="#222" stroke-width="0.07" >24</text>
<text transform="translate(446.7,554.8) scale(1.05,1)" font-size="7.2" text-anchor="middle" fill="#1a1a1a" stroke="#1a1a1a" stroke-width="0.07" >2</text>
<text transform="translate(446.7,563.4) scale(1.05,1)" font-size="7.2" text-anchor="middle" fill="#1a1a1a" stroke="#1a1a1a" stroke-width="0.07" >0</text>
<line x1="446.7" y1="568.4" x2="446.7" y2="572.3" stroke="#000" stroke-width="1" />
<text transform="translate(446.7,583) scale(1.05,1)" font-size="7" text-anchor="middle" fill="#222" stroke="#222" stroke-width="0.07" >30</text>
<text transform="translate(471.36,554.8) scale(1.05,1)" font-size="7.2" text-anchor="middle" fill="#1a1a1a" stroke="#1a1a1a" stroke-width="0.07" >1</text>
<text transform="translate(471.36,563.4) scale(1.05,1)" font-size="7.2" text-anchor="middle" fill="#1a1a1a" stroke="#1a1a1a" stroke-width="0.07" >0</text>
<line x1="471.36" y1="568.4" x2="471.36" y2="572.3" stroke="#000" stroke-width="1" />
<text transform="translate(471.36,583) scale(1.05,1)" font-size="7" text-anchor="middle" fill="#222" stroke="#222" stroke-width="0.07" >36</text>
<text transform="translate(397.4,597.6)" font-size="9.6" text-anchor="middle" fill="#111" stroke="#111" stroke-width="0.32" textLength="45.4" lengthAdjust="spacingAndGlyphs" >Time (months)</text>
<text transform="translate(273.4,555.5) rotate(-90)" font-size="9.4" text-anchor="middle" fill="#111" stroke="#111" stroke-width="0.32" textLength="33.8" lengthAdjust="spacingAndGlyphs" >Expression</text>
<text transform="translate(286.2,555.5) rotate(-90)" font-size="9.4" text-anchor="middle" fill="#111" stroke="#111" stroke-width="0.32" textLength="19" lengthAdjust="spacingAndGlyphs" >group</text>
<text x="8.6" y="623.8" font-size="12.6" text-anchor="start" fill="#000" font-weight="bold" stroke="#000" stroke-width="0.35">D</text>
<text transform="translate(119.3,622.4) scale(1.0,1)" font-size="9.6" text-anchor="start" fill="#1a1a1a" textLength="248.5" lengthAdjust="spacingAndGlyphs">Differential Expression in CD138 Cells: Screening vs PD</text>
<line x1="121.2" y1="632.8" x2="121.2" y2="806" stroke="#000" stroke-width="1.25" />
<line x1="120.6" y1="805.2" x2="366.2" y2="805.2" stroke="#000" stroke-width="1.25" />
<line x1="118.2" y1="797.6" x2="121.2" y2="797.6" stroke="#000" stroke-width="1" />
<text transform="translate(111.3,800.05) scale(1.05,1)" font-size="6.8" text-anchor="middle" fill="#222" stroke="#222" stroke-width="0.07" >0</text>
<line x1="118.2" y1="763.35" x2="121.2" y2="763.35" stroke="#000" stroke-width="1" />
<text transform="translate(111.3,765.8) scale(1.05,1)" font-size="6.8" text-anchor="middle" fill="#222" stroke="#222" stroke-width="0.07" >1</text>
<line x1="118.2" y1="729.1" x2="121.2" y2="729.1" stroke="#000" stroke-width="1" />
<text transform="translate(111.3,731.55) scale(1.05,1)" font-size="6.8" text-anchor="middle" fill="#222" stroke="#222" stroke-width="0.07" >2</text>
<line x1="118.2" y1="694.85" x2="121.2" y2="694.85" stroke="#000" stroke-width="1" />
<text transform="translate(111.3,697.3) scale(1.05,1)" font-size="6.8" text-anchor="middle" fill="#222" stroke="#222" stroke-width="0.07" >3</text>
<line x1="118.2" y1="660.6" x2="121.2" y2="660.6" stroke="#000" stroke-width="1" />
<text transform="translate(111.3,663.05) scale(1.05,1)" font-size="6.8" text-anchor="middle" fill="#222" stroke="#222" stroke-width="0.07" >4</text>
<line x1="180.0" y1="805.2" x2="180.0" y2="808.6" stroke="#000" stroke-width="1" />
<text transform="translate(180.0,819.6) scale(1.05,1)" font-size="7" text-anchor="middle" fill="#222" stroke="#222" stroke-width="0.07" >−5</text>
<line x1="244.3" y1="805.2" x2="244.3" y2="808.6" stroke="#000" stroke-width="1" />
<text transform="translate(244.3,819.6) scale(1.05,1)" font-size="7" text-anchor="middle" fill="#222" stroke="#222" stroke-width="0.07" >0</text>
<line x1="308.6" y1="805.2" x2="308.6" y2="808.6" stroke="#000" stroke-width="1" />
<text transform="translate(308.6,819.6) scale(1.05,1)" font-size="7" text-anchor="middle" fill="#222" stroke="#222" stroke-width="0.07" >5</text>
<text transform="translate(244,835.2)" font-size="9.8" text-anchor="middle" fill="#111" stroke="#111" stroke-width="0.32" textLength="54.4" lengthAdjust="spacingAndGlyphs" >Log2 fold change</text>
<text transform="translate(102.7,720.2) rotate(-90)" font-size="9.4" text-anchor="middle" fill="#111" stroke="#111" stroke-width="0.32" textLength="82.3" lengthAdjust="spacingAndGlyphs" >−Log10(adjusted&#160;&#160;<tspan font-style="italic">P</tspan>&#160;value)</text>
<line x1="238.5" y1="633" x2="238.5" y2="804.4" stroke="#3a3a3a" stroke-width="0.9" stroke-dasharray="2.4 2.4"/>
<line x1="248.7" y1="633" x2="248.7" y2="804.4" stroke="#3a3a3a" stroke-width="0.9" stroke-dasharray="2.4 2.4"/>
<line x1="122" y1="753.4" x2="366" y2="753.4" stroke="#e05858" stroke-width="0.9" stroke-dasharray="2.6 2.2"/>
<text transform="translate(137.7,650.9) scale(1.03,1)" font-size="7.4" text-anchor="start" fill="#2626d0" stroke="#2626d0" stroke-width="0.07" >Higher in Screening</text>
<text transform="translate(286.5,650.9) scale(1.03,1)" font-size="7.4" text-anchor="start" fill="#e03434" stroke="#e03434" stroke-width="0.07" >Higher in PD</text>
<line x1="217" y1="725.5" x2="222" y2="737.6" stroke="#777" stroke-width="0.6" />
<line x1="248" y1="731.6" x2="241.8" y2="736.8" stroke="#888" stroke-width="0.6" />
<line x1="225.3" y1="753.2" x2="231.1" y2="743.2" stroke="#777" stroke-width="0.6" />
<line x1="224" y1="763.5" x2="230.3" y2="752" stroke="#777" stroke-width="0.6" />
<line x1="265.9" y1="746" x2="270.5" y2="756" stroke="#888" stroke-width="0.6" />
<circle cx="222.9" cy="639.8" r="1.95" fill="#1818d8"/>
<circle cx="216.9" cy="719.2" r="1.95" fill="#1818d8"/>
<circle cx="221.8" cy="737.8" r="1.95" fill="#1818d8"/>
<circle cx="138.3" cy="746.8" r="1.95" fill="#1818d8"/>
<circle cx="208.6" cy="748.5" r="1.95" fill="#1818d8"/>
<circle cx="231.1" cy="743.2" r="1.95" fill="#1818d8"/>
<circle cx="233.9" cy="749" r="1.95" fill="#3a36e0"/>
<circle cx="230.3" cy="755.7" r="1.95" fill="#1818d8"/>
<circle cx="233" cy="756.5" r="1.95" fill="#1818d8"/>
<circle cx="235.1" cy="757.6" r="1.95" fill="#3a36e0"/>
<circle cx="229.9" cy="759.9" r="1.95" fill="#1818d8"/>
<circle cx="195.4" cy="778.7" r="1.95" fill="#1818d8"/>
<circle cx="202.8" cy="776.8" r="1.95" fill="#1818d8"/>
<circle cx="212.4" cy="787.7" r="1.95" fill="#1818d8"/>
<circle cx="223.6" cy="785.3" r="1.95" fill="#1818d8"/>
<circle cx="232.1" cy="784.9" r="1.95" fill="#1818d8"/>
<circle cx="233.4" cy="790.9" r="1.95" fill="#3a30e0"/>
<circle cx="235.8" cy="797.3" r="1.95" fill="#6a5ae0"/>
<circle cx="237.8" cy="797.7" r="1.95" fill="#8a80e0"/>
<circle cx="238.9" cy="739.2" r="1.95" fill="#8a80d8"/>
<circle cx="237.8" cy="772.1" r="1.95" fill="#7466dc"/>
<circle cx="234.8" cy="775.8" r="1.95" fill="#7466dc"/>
<circle cx="233.4" cy="778.2" r="1.95" fill="#7466dc"/>
<circle cx="244" cy="738.8" r="1.95" fill="#c2c2c6"/>
<circle cx="244" cy="745.3" r="1.95" fill="#c2c2c6"/>
<circle cx="244" cy="750.3" r="1.95" fill="#c2c2c6"/>
<circle cx="244" cy="756.1" r="1.95" fill="#c2c2c6"/>
<circle cx="244" cy="757.2" r="1.95" fill="#c2c2c6"/>
<circle cx="243.8" cy="770" r="1.95" fill="#b0c2c2"/>
<circle cx="243.3" cy="774.5" r="1.95" fill="#c2c2c6"/>
<circle cx="244.5" cy="777" r="1.95" fill="#c2c2c6"/>
<circle cx="243.3" cy="779.5" r="1.95" fill="#c2c2c6"/>
<circle cx="244.5" cy="782" r="1.95" fill="#c2c2c6"/>
<circle cx="243.3" cy="784.5" r="1.95" fill="#c2c2c6"/>
<circle cx="244.5" cy="787" r="1.95" fill="#bcb6c8"/>
<circle cx="243.3" cy="789.5" r="1.95" fill="#c8b8b8"/>
<circle cx="244.5" cy="792" r="1.95" fill="#bcb6c8"/>
<circle cx="243.3" cy="794.5" r="1.95" fill="#c8b8b8"/>
<circle cx="244.5" cy="797" r="1.95" fill="#bcb6c8"/>
<circle cx="243.3" cy="799" r="1.95" fill="#c8b8b8"/>
<circle cx="242.3" cy="796" r="1.95" fill="#a8a8cc"/>
<circle cx="245.6" cy="793" r="1.95" fill="#c8a8a8"/>
<circle cx="242" cy="790" r="1.95" fill="#b0b0c8"/>
<circle cx="245.8" cy="798" r="1.95" fill="#d0b0b0"/>
<circle cx="248.8" cy="764.4" r="1.95" fill="#cf8c82"/>
<circle cx="250.2" cy="770.4" r="1.95" fill="#cf8c82"/>
<circle cx="250.9" cy="775.1" r="1.95" fill="#cf8c82"/>
<circle cx="250.9" cy="780.5" r="1.95" fill="#cf8c82"/>
<circle cx="249.5" cy="788.2" r="1.95" fill="#cf8c82"/>
<circle cx="250.2" cy="795" r="1.95" fill="#cf8c82"/>
<circle cx="263.8" cy="711.6" r="1.95" fill="#e0181e"/>
<circle cx="265.9" cy="746" r="1.95" fill="#e0181e"/>
<circle cx="283.2" cy="746" r="1.95" fill="#e0181e"/>
<circle cx="283.2" cy="766.4" r="1.95" fill="#e0181e"/>
<text transform="translate(226.3,638.9) scale(1.1,1)" font-size="7.6" text-anchor="start" fill="#1a1a1a" stroke="#1a1a1a" stroke-width="0.07" >STING</text>
<text transform="translate(216.9,716.6) scale(1.1,1)" font-size="7.6" text-anchor="start" fill="#1a1a1a" stroke="#1a1a1a" stroke-width="0.07" >CD4</text>
<text transform="translate(259.6,709.9) scale(1.1,1)" font-size="7.6" text-anchor="start" fill="#1a1a1a" stroke="#1a1a1a" stroke-width="0.07" >CD14</text>
<text transform="translate(274.9,743.4) scale(1.1,1)" font-size="7.6" text-anchor="start" fill="#1a1a1a" stroke="#1a1a1a" stroke-width="0.07" >INPP4B</text>
<text transform="translate(133.7,745.9) scale(1.1,1)" font-size="7.6" text-anchor="start" fill="#1a1a1a" stroke="#1a1a1a" stroke-width="0.07" >CD66b</text>
<text transform="translate(194.6,745.7) scale(1.1,1)" font-size="7.6" text-anchor="start" fill="#1a1a1a" stroke="#1a1a1a" stroke-width="0.07" >ICOS</text>
<text transform="translate(207.7,770.4) scale(1.1,1)" font-size="7.6" text-anchor="start" fill="#1a1a1a" stroke="#1a1a1a" stroke-width="0.07" >CD45</text>
<rect x="191" y="720.8" width="26" height="8.600000000000023" fill="#f0931e" rx="0.6"/>
<text transform="translate(204.0,727.95) scale(1.0,1)" font-size="7.9" text-anchor="middle" fill="#fff" >Bcl-2</text>
<rect x="237.1" y="722.2" width="40.50000000000003" height="8.299999999999955" fill="#5e2d86" rx="0.6"/>
<text transform="translate(257.35,729.2) scale(1.0,1)" font-size="7.9" text-anchor="middle" fill="#fff" >HLA-DR</text>
<rect x="201.3" y="752.2" width="23.299999999999983" height="7.899999999999977" fill="#f0931e" rx="0.6"/>
<text transform="translate(212.95,759.0) scale(1.0,1)" font-size="7.9" text-anchor="middle" fill="#fff" >BAD</text>
<rect x="269.7" y="755.5" width="28.5" height="8.299999999999955" fill="#f0931e" rx="0.6"/>
<text transform="translate(283.95,762.5) scale(1.0,1)" font-size="7.9" text-anchor="middle" fill="#fff" >PARP</text>
<text transform="translate(371,652.5) scale(1.035,1)" font-size="7.3" text-anchor="start" fill="#1a1a1a" stroke="#1a1a1a" stroke-width="0.07" >Marker Category</text>
<rect x="371" y="659.2" width="7" height="6.6" fill="#5e2d86"/>
<text transform="translate(382.4,665) scale(1.0,1)" font-size="7.3" text-anchor="start" fill="#1a1a1a" stroke="#1a1a1a" stroke-width="0.07" >Antigenicity</text>
<rect x="371" y="671.2" width="7" height="6.5" fill="#f7961f"/>
<text transform="translate(382.4,677.2) scale(1.0,1)" font-size="7.3" text-anchor="start" fill="#1a1a1a" stroke="#1a1a1a" stroke-width="0.07" >Apoptosis</text>
<text transform="translate(371,710.7) scale(1.035,1)" font-size="7.3" text-anchor="start" fill="#1a1a1a" stroke="#1a1a1a" stroke-width="0.07" >Log2 Fold Change</text>
<defs><linearGradient id="cb" x1="0" y1="0" x2="0" y2="1"><stop offset="0" stop-color="#f01010"/><stop offset="0.5" stop-color="#c8c4c4"/><stop offset="1" stop-color="#1010f0"/></linearGradient></defs>
<rect x="371.5" y="719.6" width="8" height="41.4" fill="url(#cb)"/>
<text transform="translate(383.8,723.1) scale(1.0,1)" font-size="7" text-anchor="start" fill="#1a1a1a" stroke="#1a1a1a" stroke-width="0.07" >1.0</text>
<text transform="translate(383.8,733.2) scale(1.0,1)" font-size="7" text-anchor="start" fill="#1a1a1a" stroke="#1a1a1a" stroke-width="0.07" >0.5</text>
<text transform="translate(383.8,743.3) scale(1.0,1)" font-size="7" text-anchor="start" fill="#1a1a1a" stroke="#1a1a1a" stroke-width="0.07" >0.0</text>
<text transform="translate(383.8,753.4) scale(1.0,1)" font-size="7" text-anchor="start" fill="#1a1a1a" stroke="#1a1a1a" stroke-width="0.07" >−0.5</text>
<text transform="translate(383.8,763.5) scale(1.0,1)" font-size="7" text-anchor="start" fill="#1a1a1a" stroke="#1a1a1a" stroke-width="0.07" >−1.0</text>
<rect x="0.5" y="0.5" width="519" height="845" fill="none" stroke="#333" stroke-width="1.2"/>
</svg>
</body></html>
